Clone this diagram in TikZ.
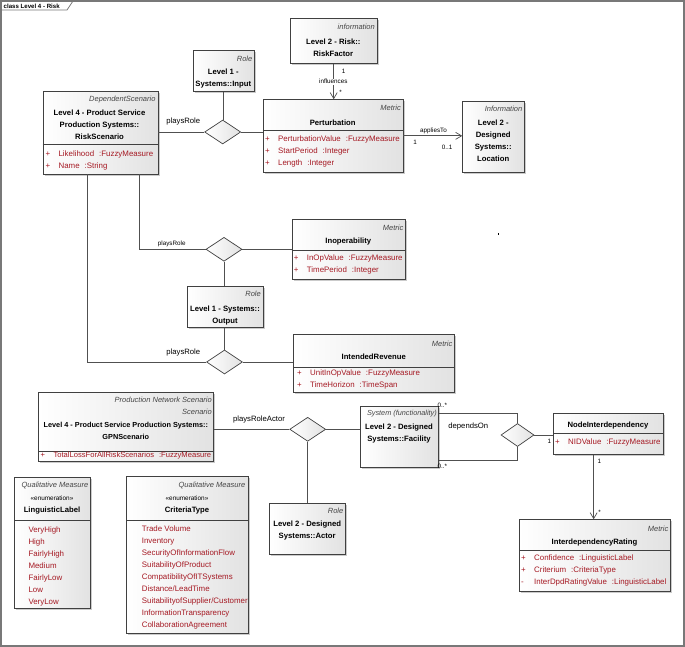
\documentclass[tikz,border=0pt]{standalone}
\usepackage{fontspec}
\setmainfont{Liberation Sans}
\usepackage{tikz}
\usetikzlibrary{arrows.meta,positioning,calc,shapes.geometric,shadows}
\definecolor{boxline}{RGB}{64,64,64}
\definecolor{boxshade}{RGB}{226,226,226}
\definecolor{attrred}{RGB}{165,25,35}
\definecolor{stereogrey}{RGB}{70,70,70}
\definecolor{linegrey}{RGB}{80,80,80}
\definecolor{framegrey}{RGB}{120,120,120}
\newcommand{\attr}[3]{\makebox[13pt][l]{#1}#2\hspace{5pt}:#3}
\newcommand{\enumfont}{\fontsize{6.4}{12}\selectfont\mdseries}

\begin{document}
\begin{tikzpicture}[
  x=1pt, y=-1pt,
  every node/.style={font=\fontsize{7.6}{12}\selectfont, inner sep=0pt},
  cls/.style={draw=boxline, line width=0.7pt, anchor=north west,
    left color=white, right color=boxshade,
    drop shadow={shadow xshift=1.5pt, shadow yshift=-1.5pt, fill=black!40}},
  rel/.style={diamond, draw=boxline, line width=0.7pt, left color=white,
    right color=boxshade, minimum width=36pt, minimum height=24pt},
  stereo/.style={font=\fontsize{7.5}{12}\selectfont\itshape, text=stereogrey, anchor=mid east},
  cname/.style={font=\fontsize{7.7}{12}\selectfont\bfseries, align=center},
  attrs/.style={font=\fontsize{7.9}{12}\selectfont, text=attrred, align=left, anchor=west},
  divider/.style={draw=boxline, line width=0.6pt},
  assoc/.style={draw=linegrey, line width=0.7pt},
  nav/.style={assoc, -{Straight Barb[length=6pt, width=7pt]}},
  lbl/.style={font=\fontsize{7.7}{9}\selectfont},
  mult/.style={font=\fontsize{6.3}{7}\selectfont}
]
\fill[white] (0,0) rectangle (685,647);
\useasboundingbox (0,0) rectangle (685,647);

% frame
\draw[framegrey, line width=1.2pt] (1,1) rectangle (684,646);
\draw[framegrey, line width=0.8pt] (1,10) -- (67,10) -- (73,1);
\node[font=\fontsize{6.1}{7}\selectfont\bfseries, anchor=mid west] (title) at (3.5,5.7) {class Level 4 - Risk};

% risk scenario
\node[cls, minimum width=115pt, minimum height=83pt] (rs) at (42.7,90.7) {};
\draw[divider] ([yshift=-53.6pt]rs.north west) -- ([yshift=-53.6pt]rs.north east);
\node[stereo] (rs-st) at (155.7,98.7) {DependentScenario};
\node[cname] (rs-nm) at (99.5,124.5) {Level 4 - Product Service\\Production Systems::\\RiskScenario};
\node[attrs] (rs-at) at (45.4,160) {\attr{+}{Likelihood}{FuzzyMeasure}\\\attr{+}{Name}{String}};

% perturbation
\node[cls, minimum width=140pt, minimum height=72.4pt] (pt) at (262.7,99.3) {};
\draw[divider] ([yshift=-31.4pt]pt.north west) -- ([yshift=-31.4pt]pt.north east);
\node[stereo] (pt-st) at (401,107.7) {Metric};
\node[cname] (pt-nm) at (332.7,122.3) {Perturbation};
\node[attrs] (pt-at) at (265,151.3) {\attr{+}{PerturbationValue}{FuzzyMeasure}\\\attr{+}{StartPeriod}{Integer}\\\attr{+}{Length}{Integer}};

% risk factor
\node[cls, minimum width=86.7pt, minimum height=45pt] (rf) at (290,18.3) {};
\node[stereo] (rf-st) at (375,26.7) {information};
\node[cname] (rf-nm) at (333.3,48) {Level 2 - Risk::\\RiskFactor};

% input role
\node[cls, minimum width=61.3pt, minimum height=41pt] (in) at (192.7,50) {};
\node[stereo] (in-st) at (252.5,59.3) {Role};
\node[cname] (in-nm) at (223.3,78.7) {Level 1 -\\Systems::Input};

% location
\node[cls, minimum width=61.7pt, minimum height=71.3pt] (loc) at (462.3,100.7) {};
\node[stereo] (loc-st) at (522.5,108.7) {Information};
\node[cname] (loc-nm) at (493.2,141) {Level 2 -\\Designed\\Systems::\\Location};

% inoperability
\node[cls, minimum width=113.3pt, minimum height=59.7pt] (inop) at (291.7,219) {};
\draw[divider] ([yshift=-31.7pt]inop.north west) -- ([yshift=-31.7pt]inop.north east);
\node[stereo] (inop-st) at (403.5,228.3) {Metric};
\node[cname] (inop-nm) at (348.3,241.7) {Inoperability};
\node[attrs] (inop-at) at (293.7,264.5) {\attr{+}{InOpValue}{FuzzyMeasure}\\\attr{+}{TimePeriod}{Integer}};

% output role
\node[cls, minimum width=75.4pt, minimum height=41.6pt] (out) at (187.3,285.7) {};
\node[stereo] (out-st) at (261,294.3) {Role};
\node[cname] (out-nm) at (225,315.3) {Level 1 - Systems::\\Output};

% intended revenue
\node[cls, minimum width=160.7pt, minimum height=57.4pt] (ir) at (293.3,334.3) {};
\draw[divider] ([yshift=-33pt]ir.north west) -- ([yshift=-33pt]ir.north east);
\node[stereo] (ir-st) at (452.5,344) {Metric};
\node[cname] (ir-nm) at (373.7,356.7) {IntendedRevenue};
\node[attrs] (ir-at) at (297,379.5) {\attr{+}{UnitInOpValue}{FuzzyMeasure}\\\attr{+}{TimeHorizon}{TimeSpan}};

% gpn scenario
\node[cls, minimum width=175pt, minimum height=69pt] (gpn) at (38.3,391.7) {};
\draw[divider] ([yshift=-60pt]gpn.north west) -- ([yshift=-60pt]gpn.north east);
\node[stereo, align=right, anchor=east] (gpn-st) at (212,405.5) {Production Network Scenario\\Scenario};
\node[cname, font=\fontsize{7.3}{12}\selectfont\bfseries] (gpn-nm) at (125.8,430.8) {Level 4 - Product Service Production Systems::\\GPNScenario};
\node[attrs, font=\fontsize{7.6}{12}\selectfont] (gpn-at) at (40.4,456) {\attr{+}{TotalLossForAllRiskScenarios}{FuzzyMeasure}};

% facility
\node[cls, minimum width=78.3pt, minimum height=61pt] (fac) at (360,405.7) {};
\node[stereo, font=\fontsize{7.3}{12}\selectfont\itshape] (fac-st) at (437,413.3) {System (functionality)};
\node[cname] (fac-nm) at (399,433.8) {Level 2 - Designed\\Systems::Facility};

% actor role
\node[cls, minimum width=75.7pt, minimum height=51.3pt] (act) at (269.3,502.7) {};
\node[stereo] (act-st) at (343.5,510.7) {Role};
\node[cname] (act-nm) at (307.2,530.7) {Level 2 - Designed\\Systems::Actor};

% node interdependency
\node[cls, minimum width=109.4pt, minimum height=40.7pt] (ni) at (553.3,413.3) {};
\draw[divider] ([yshift=-20pt]ni.north west) -- ([yshift=-20pt]ni.north east);
\node[cname] (ni-nm) at (608,425.5) {NodeInterdependency};
\node[attrs] (ni-at) at (555,442.3) {\attr{+}{NIDValue}{FuzzyMeasure}};

% interdependency rating
\node[cls, minimum width=151pt, minimum height=71.4pt] (rat) at (519,519.3) {};
\draw[divider] ([yshift=-30.7pt]rat.north west) -- ([yshift=-30.7pt]rat.north east);
\node[stereo] (rat-st) at (668.5,529) {Metric};
\node[cname] (rat-nm) at (594.5,542.3) {InterdependencyRating};
\node[attrs] (rat-at) at (521,570.5) {\attr{+}{Confidence}{LinguisticLabel}\\\attr{+}{Criterium}{CriteriaType}\\\attr{-}{InterDpdRatingValue}{LinguisticLabel}};

% linguistic label
\node[cls, minimum width=76pt, minimum height=131.6pt] (ll) at (14,476.7) {};
\draw[divider] ([yshift=-44pt]ll.north west) -- ([yshift=-44pt]ll.north east);
\node[stereo] (ll-st) at (88.5,485) {Qualitative Measure};
\node[cname] (ll-nm) at (52,505) {{\enumfont«enumeration»}\\LinguisticLabel};
\node[attrs] (ll-at) at (28.3,566) {VeryHigh\\High\\FairlyHigh\\Medium\\FairlyLow\\Low\\VeryLow};

% criteria type
\node[cls, minimum width=122.3pt, minimum height=157.6pt] (ct) at (126,475.7) {};
\draw[divider] ([yshift=-44.3pt]ct.north west) -- ([yshift=-44.3pt]ct.north east);
\node[stereo] (ct-st) at (245.5,485) {Qualitative Measure};
\node[cname] (ct-nm) at (187,504.5) {{\enumfont«enumeration»}\\CriteriaType};
\node[attrs] (ct-at) at (141.7,577) {Trade Volume\\Inventory\\SecurityOfInformationFlow\\SuitabilityOfProduct\\CompatibilityOfITSystems\\Distance/LeadTime\\SuitabilityofSupplier/Customer\\InformationTransparency\\CollaborationAgreement};

% association diamonds
\node[rel] (d1) at (222.7,132) {};
\node[rel] (d2) at (224,249.3) {};
\node[rel] (d3) at (224.5,362) {};
\node[rel] (d4) at (307.7,429.3) {};
\node[rel, minimum width=33pt, minimum height=23pt] (d5) at (517.5,435) {};

% connectors
\draw[assoc] (d1.west -| rs.east) -- (d1.west);
\draw[assoc] (in.south) -- (in.south |- d1.north);
\draw[assoc] (d1.east) -- (d1.east -| pt.west);
\draw[assoc] ([xshift=39pt]rs.south) |- (d2.west);
\draw[assoc] (d2.east) -- (d2.east -| inop.west);
\draw[assoc] (d2.south) -- (d2.south |- out.north);
\draw[assoc] ([xshift=-13pt]rs.south) |- (d3.west);
\draw[assoc] (d3.north) -- (d3.north |- out.south);
\draw[assoc] (d3.east) -- (d3.east -| ir.west);
\draw[assoc] (d4.west -| gpn.east) -- (d4.west);
\draw[assoc] (d4.east) -- (d4.east -| fac.west);
\draw[assoc] (d4.south) -- (d4.south |- act.north);
\draw[assoc] ([yshift=-7.6pt]fac.north east) -| (d5.north);
\draw[assoc] ([yshift=7.4pt]fac.south east) -| (d5.south);
\draw[assoc] (d5.east) -- (d5.east -| ni.west);
\draw[nav] (rf.south) -- (rf.south |- pt.north);
\draw[nav] (pt.east) -- (pt.east -| loc.west);
\draw[nav] ([xshift=-14.7pt]ni.south) -- ([xshift=-14.7pt]ni.south |- rat.north);

% labels
\node[lbl] (pr1) at (183.3,122) {playsRole};
\node[mult] (pr2) at (171.7,244.3) {playsRole};
\node[lbl] (pr3) at (183.3,352.7) {playsRole};
\node[lbl] (pra) at (259,419.3) {playsRoleActor};
\node[lbl] (dep) at (468.3,426.7) {dependsOn};
\node[mult, fill=white, inner sep=0.8pt] (infl) at (333.3,81.7) {influences};
\node[mult] (infl-a) at (343.5,71.7) {1};
\node[mult] (infl-b) at (340.5,92) {*};
\node[mult] (app) at (433.5,131.3) {appliesTo};
\node[mult] (app-a) at (415,142.7) {1};
\node[mult] (app-b) at (447,147.3) {0..1};
\node[mult] (dep-a) at (442.3,405) {0..*};
\node[mult] (dep-b) at (442.3,466) {0..*};
\node[mult] (ni-a) at (549.3,441.7) {1};
\node[mult] (rat-a) at (599.3,461.7) {1};
\node[mult] (rat-b) at (599.5,512.8) {*};

\fill (497.6,233) rectangle (499.2,234.6);
\end{tikzpicture}
\end{document}
